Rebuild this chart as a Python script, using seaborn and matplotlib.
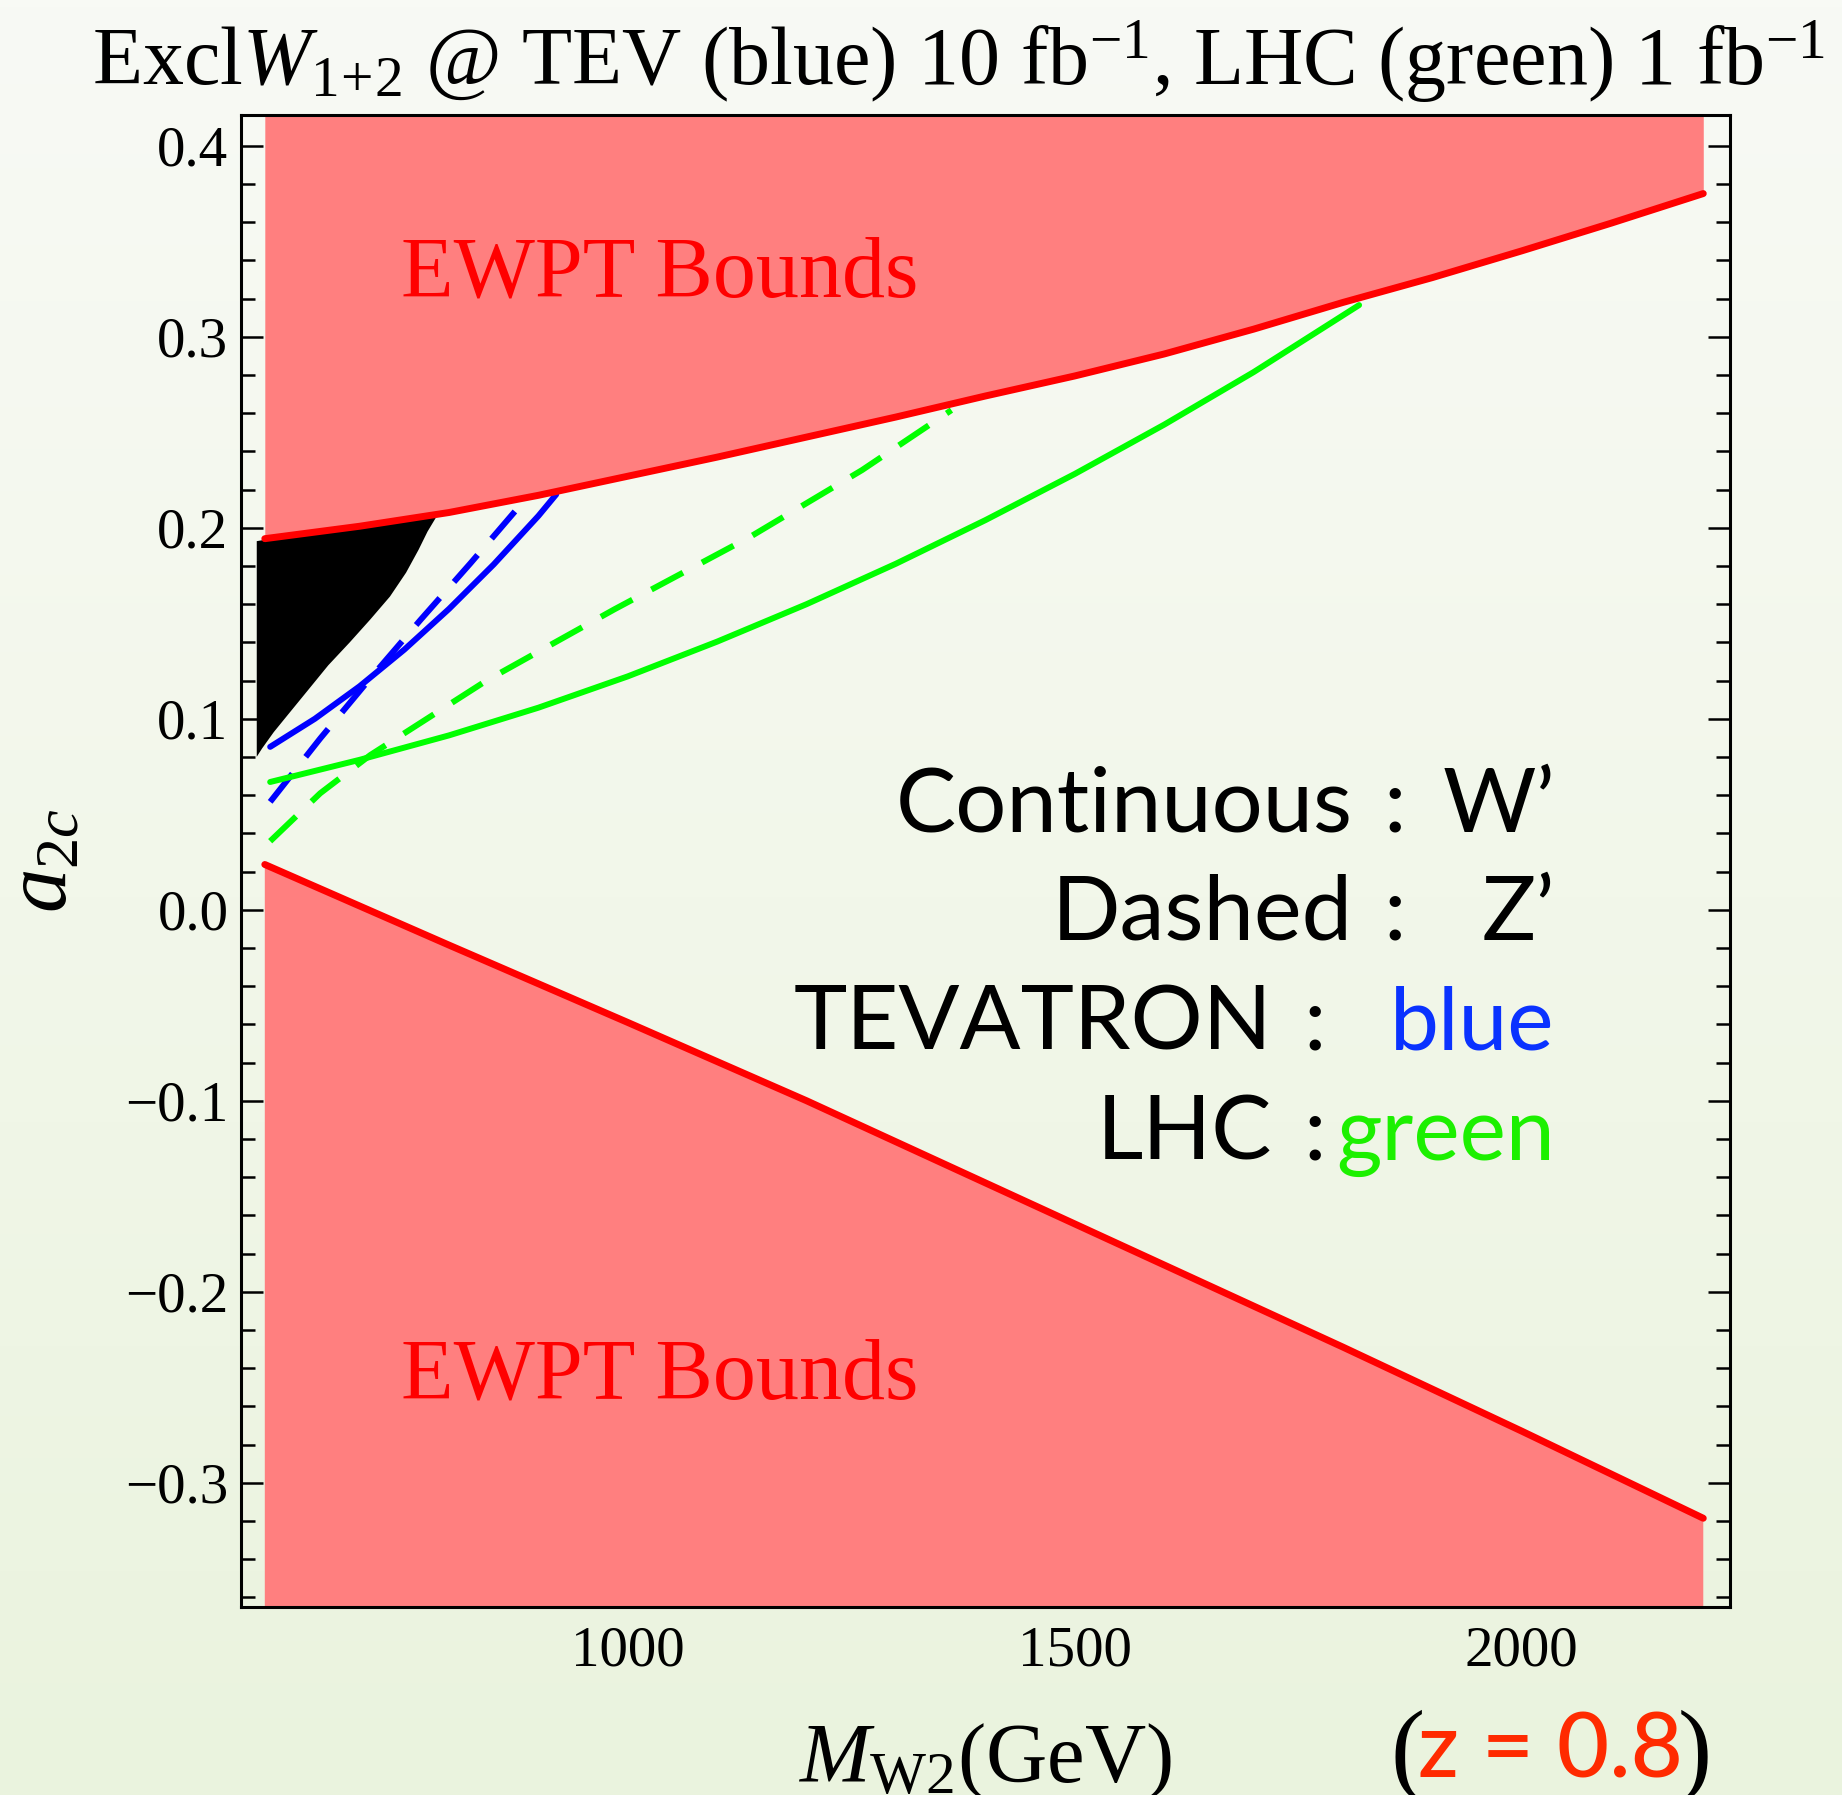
import numpy as np
import matplotlib
matplotlib.use("Agg")
import matplotlib.pyplot as plt
from matplotlib.colors import LinearSegmentedColormap
from matplotlib.ticker import MultipleLocator
import seaborn as sns

# ---------------------------------------------------------------------------
# Data: M_W2 (GeV) versus a_2c
# ---------------------------------------------------------------------------
# EWPT upper boundary (region above is excluded)
ewpt_upper_mass = [594, 700, 800, 900, 1000, 1100, 1200, 1300, 1400, 1500,
                   1600, 1700, 1800, 1900, 2000, 2100, 2203]
ewpt_upper_a2c = [0.1943, 0.2008, 0.208, 0.217, 0.227, 0.237, 0.2475, 0.258,
                  0.269, 0.2795, 0.291, 0.304, 0.318, 0.331, 0.345, 0.3595, 0.375]

# EWPT lower boundary (region below is excluded)
ewpt_lower_mass = [594, 800, 1000, 1200, 1400, 1600, 1800, 2000, 2203]
ewpt_lower_a2c = [0.0237, -0.0185, -0.059, -0.100, -0.143, -0.186,
                  -0.229, -0.273, -0.3186]

# Region excluded at the Tevatron (filled black)
excl_mass = [585, 600, 700, 786, 776, 766, 752, 734, 712, 689, 665, 642, 620,
             604, 591, 585]
excl_a2c = [0.193, 0.1942, 0.2008, 0.2058, 0.1980, 0.1885, 0.1765, 0.1640,
            0.1520, 0.1400, 0.1280, 0.1148, 0.1022, 0.0930, 0.0845, 0.0801]

# Tevatron reach, W' (continuous)
tev_w_mass = [600, 650, 700, 750, 800, 850, 900, 920]
tev_w_a2c = [0.0853, 0.1000, 0.1170, 0.1362, 0.1575, 0.1808, 0.2062, 0.2175]

# Tevatron reach, Z' (dashed)
tev_z_mass = [600, 656, 712, 768, 824, 883]
tev_z_a2c = [0.0565, 0.0897, 0.1212, 0.1517, 0.1814, 0.2136]

# LHC reach, W' (continuous)
lhc_w_mass = [600, 700, 800, 900, 1000, 1100, 1200, 1300, 1400, 1500, 1600,
              1700, 1818]
lhc_w_a2c = [0.0669, 0.0785, 0.0913, 0.1058, 0.1222, 0.1404, 0.1600, 0.1812,
             0.2040, 0.2282, 0.2540, 0.2815, 0.3166]

# LHC reach, Z' (dashed)
lhc_z_mass = [600, 656, 712, 842, 985, 1137, 1262, 1362]
lhc_z_a2c = [0.0359, 0.0610, 0.0810, 0.1200, 0.1573, 0.1953, 0.2302, 0.2616]

# Legend text
legend_names = ["Continuous", "Dashed", "TEVATRON", "LHC"]
legend_values = ["W\u2019", "Z\u2019", "blue", "green"]

# ---------------------------------------------------------------------------
# Style
# ---------------------------------------------------------------------------
sns.set_theme(style="ticks")
plt.rcParams["font.family"] = ["Liberation Serif", "DejaVu Serif"]
plt.rcParams["mathtext.fontset"] = "custom"
plt.rcParams["mathtext.rm"] = "Liberation Serif"
plt.rcParams["mathtext.it"] = "Liberation Serif:italic"
plt.rcParams["axes.unicode_minus"] = True

RED_FILL = "#ff7f7f"
RED_LINE = "#ff0000"
BLUE = "#0000ff"
GREEN = "#00ff00"
SANS = ["Lato", "DejaVu Sans"]

fig = plt.figure(figsize=(18.42, 17.95), dpi=100)

# soft vertical gradient behind everything
bg = fig.add_axes([0, 0, 1, 1], zorder=-10)
grad = np.linspace(0, 1, 256).reshape(-1, 1)
bg_cmap = LinearSegmentedColormap.from_list("bg", ["#f8faf5", "#f2f7ea", "#eaf3de"])
bg.imshow(grad, aspect="auto", cmap=bg_cmap, extent=[0, 1, 0, 1], origin="upper")
bg.set_axis_off()

ax = fig.add_axes([0.1308, 0.1047, 0.8084, 0.8312])
ax.set_facecolor("none")

# excluded EWPT bands
ax.fill_between(ewpt_upper_mass, ewpt_upper_a2c, 1.0, color=RED_FILL, lw=0, zorder=1)
ax.fill_between(ewpt_lower_mass, ewpt_lower_a2c, -1.0, color=RED_FILL, lw=0, zorder=1)
ax.fill(excl_mass, excl_a2c, color="black", lw=0, zorder=2)

line_kw = dict(estimator=None, sort=False, ax=ax, legend=False)
sns.lineplot(x=ewpt_upper_mass, y=ewpt_upper_a2c, color=RED_LINE,
             linewidth=5.0, zorder=6, **line_kw)
sns.lineplot(x=ewpt_lower_mass, y=ewpt_lower_a2c, color=RED_LINE,
             linewidth=5.0, zorder=6, **line_kw)

dash = (0, (6.0, 3.6))
sns.lineplot(x=tev_w_mass, y=tev_w_a2c, color=BLUE, linewidth=4.3, zorder=5, **line_kw)
sns.lineplot(x=tev_z_mass, y=tev_z_a2c, color=BLUE, linewidth=4.3, linestyle=dash,
             zorder=5, **line_kw)
sns.lineplot(x=lhc_w_mass, y=lhc_w_a2c, color=GREEN, linewidth=4.3, zorder=5, **line_kw)
sns.lineplot(x=lhc_z_mass, y=lhc_z_a2c, color=GREEN, linewidth=4.3, linestyle=dash,
             zorder=5, **line_kw)

# axes
ax.set_xlim(567.3, 2232.9)
ax.set_ylim(-0.3651, 0.4161)
ax.xaxis.set_major_locator(MultipleLocator(500))
ax.xaxis.set_minor_locator(MultipleLocator(100))
ax.yaxis.set_major_locator(MultipleLocator(0.1))
ax.yaxis.set_minor_locator(MultipleLocator(0.02))
ax.tick_params(which="both", direction="in", top=True, right=True,
               width=1.8, color="black", labelcolor="black")
ax.tick_params(which="major", length=16, labelsize=41)
ax.tick_params(which="minor", length=10)
ax.tick_params(axis="x", which="major", pad=13)
ax.tick_params(axis="y", which="major", pad=9)
for sp in ax.spines.values():
    sp.set_linewidth(2.2)
    sp.set_color("black")
    sp.set_zorder(10)

ax.set_xlabel(r"$M_{\mathrm{W2}}$(GeV)", fontsize=61, va="baseline", color="black")
ax.xaxis.set_label_coords(0.5, -0.1173)
ax.set_ylabel(r"$a_{2c}$", fontsize=64, va="center", ha="center", color="black")
ax.yaxis.set_label_coords(-0.1316, 0.5)

# region labels
for ypos in (0.321, -0.256):
    ax.text(1035.5, ypos, "EWPT Bounds", color=RED_LINE, fontsize=62,
            ha="center", va="baseline", zorder=7)

# legend block
name_right = [1811, 1811, 1721, 1721]
colon_x = [1858, 1858, 1768, 1768]
value_right = [2037, 2037, 2037, 2037]
value_sizes = [65, 65, 63, 63]
rows_y = [0.0408, -0.0158, -0.0734, -0.131]
value_colors = ["black", "black", "#0a32ff", "#1cf000"]
for name, value, nx, cx, vx, vs, y, vc in zip(legend_names, legend_values,
                                              name_right, colon_x, value_right,
                                              value_sizes, rows_y, value_colors):
    ax.text(nx, y, name, family=SANS, fontsize=65, ha="right", va="baseline",
            color="black", zorder=7)
    ax.text(cx, y, ":", family=SANS, fontsize=65, ha="center", va="baseline",
            color="black", zorder=7)
    ax.text(vx, y, value, family=SANS, fontsize=vs, ha="right", va="baseline",
            color=vc, zorder=7)

# title
fig.text(0.05, 0.9526,
         r"Excl$W_{1\!+\!2}$ @ TEV (blue) 10 fb$^{-1}$, LHC (green) 1 fb$^{-1}$",
         fontsize=59, ha="left", va="baseline", color="black")

# parameter tag
fig.text(1390 / 1842, 1 - 1782 / 1795, "(", fontsize=74, ha="left", va="baseline",
         color="black")
fig.text(1418 / 1842, 1 - 1777 / 1795, "z = 0.8", family=SANS, fontsize=65,
         fontweight="medium", ha="left", va="baseline", color="#ff2a00")
fig.text(1712 / 1842, 1 - 1782 / 1795, ")", fontsize=74, ha="right", va="baseline",
         color="black")

fig.savefig("out.png", dpi=100)
